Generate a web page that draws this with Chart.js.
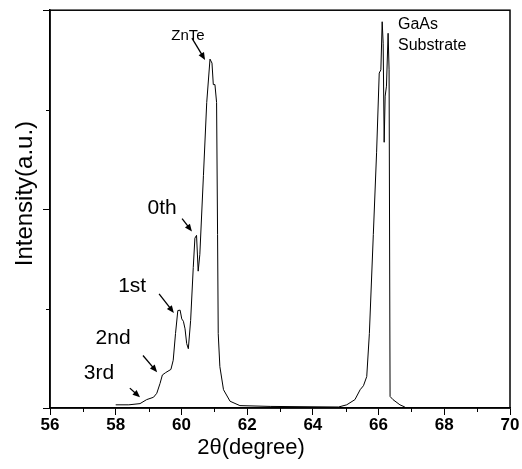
<!DOCTYPE html>
<html>
<head>
<meta charset="utf-8">
<script src="https://cdn.jsdelivr.net/npm/chart.js@4.4.1/dist/chart.umd.min.js"></script>
<style>
    html, body { margin: 0; padding: 0; background: #fff; }
    #wrap { width: 522px; height: 469px; }
</style>
</head>
<body>
<div id="wrap"><canvas id="c"></canvas></div>
<script>
// 2theta scan
const twoTheta = [
    58.0, 58.4, 58.74, 58.94, 59.15, 59.25, 59.35, 59.42, 59.52, 59.68, 59.75, 59.82, 59.89, 59.96,
    60.01, 60.06, 60.11, 60.16, 60.21, 60.28, 60.36, 60.41, 60.46, 60.51, 60.56, 60.67, 60.77,
    60.87, 60.93, 60.97, 61.02, 61.07, 61.10, 61.12, 61.17, 61.28, 61.48, 61.78, 62.7, 64.78,
    65.03, 65.28, 65.44, 65.54, 65.64, 65.72, 65.84, 65.94, 66.02, 66.07, 66.11, 66.14, 66.17,
    66.20, 66.24, 66.29, 66.32, 66.35, 66.44, 66.65, 66.80,
]
const intensity = [
    0.8, 0.8, 1.1, 2.1, 2.7, 3.7, 6.2, 8.3, 8.9, 9.7, 12, 18.7, 24.5, 24.6,
    22.4, 21.8, 19.9, 16.2, 14.9, 22, 35.3, 42.7, 43.4, 34.4, 38.6, 58.5, 76.8,
    87.7, 86.7, 81.3, 81.3, 76.8, 43.6, 18.7, 10.4, 4.6, 1.7, 0.6, 0.4, 0.25,
    0.8, 2.1, 4.6, 5.6, 7.9, 18.7, 43.6, 64.3, 84.2, 85, 97.1, 91.7, 66.8,
    78.4, 80.9, 94.2, 85, 2.9, 2.1, 0.8, 0.25,
]

const xTitle = '2θ(degree)'
const yTitle = 'Intensity(a.u.)'

// annotations: text position and arrow [from, to] in data units
const labels = [
    { text: 'ZnTe', x: 60.2, y: 93.5, size: 15, align: 'center', arrow: [[60.32, 93.0], [60.72, 87.5]] },
    { text: 'GaAs', x: 66.59, y: 96.3, size: 16, align: 'left', arrow: null },
    { text: 'Substrate', x: 66.59, y: 91.0, size: 16, align: 'left', arrow: null },
    { text: '0th', x: 59.41, y: 50.1, size: 21, align: 'center', arrow: [[60.02, 47.6], [60.32, 44.4]] },
    { text: '1st', x: 58.5, y: 30.7, size: 21, align: 'center', arrow: [[59.32, 28.7], [59.77, 23.9]] },
    { text: '2nd', x: 57.92, y: 17.5, size: 21, align: 'center', arrow: [[58.83, 13.2], [59.26, 9.0]] },
    { text: '3rd', x: 57.49, y: 8.7, size: 21, align: 'center', arrow: [[58.43, 5.0], [58.74, 2.7]] },
]

const points = twoTheta.map((x, i) => ({ x, y: intensity[i] }))
const FONT = '"Liberation Sans", Arial, sans-serif'

const decorations = {
    id: 'decorations',
    afterDraw(chart) {
        const { ctx, chartArea: a, scales: { x, y } } = chart
        ctx.save()
        ctx.strokeStyle = '#000'
        ctx.lineWidth = 1.5
        ctx.strokeRect(a.left, a.top, a.right - a.left, a.bottom - a.top)

        // minor ticks
        ctx.lineWidth = 1
        ctx.beginPath()
        for (let v = 57; v < 70; v += 2) {
            const px = Math.round(x.getPixelForValue(v)) + 0.5
            ctx.moveTo(px, a.bottom); ctx.lineTo(px, a.bottom + 4)
        }
        for (const v of [25, 75]) {
            const py = Math.round(y.getPixelForValue(v)) + 0.5
            ctx.moveTo(a.left, py); ctx.lineTo(a.left - 4, py)
        }
        ctx.stroke()

        ctx.fillStyle = '#000'
        ctx.textBaseline = 'middle'

        // axis titles, placed slightly off-centre like the original
        ctx.textAlign = 'center'
        ctx.font = `22px ${FONT}`
        ctx.fillText(xTitle, x.getPixelForValue(62.12), a.bottom + 40)
        ctx.save()
        ctx.translate(a.left - 25, y.getPixelForValue(53.9))
        ctx.rotate(-Math.PI / 2)
        ctx.font = `24px ${FONT}`
        ctx.fillText(yTitle, 0, 0)
        ctx.restore()

        labels.forEach(l => {
            ctx.textAlign = l.align
            ctx.font = `${l.size}px ${FONT}`
            ctx.fillText(l.text, x.getPixelForValue(l.x), y.getPixelForValue(l.y))
            if (!l.arrow) return
            const [x0, y0] = [x.getPixelForValue(l.arrow[0][0]), y.getPixelForValue(l.arrow[0][1])]
            const [x1, y1] = [x.getPixelForValue(l.arrow[1][0]), y.getPixelForValue(l.arrow[1][1])]
            const ang = Math.atan2(y1 - y0, x1 - x0)
            ctx.lineWidth = 1.3
            ctx.beginPath()
            ctx.moveTo(x0, y0)
            ctx.lineTo(x1 - 5 * Math.cos(ang), y1 - 5 * Math.sin(ang))
            ctx.stroke()
            ctx.beginPath()
            ctx.moveTo(x1, y1)
            ctx.lineTo(x1 - 8 * Math.cos(ang - 0.4), y1 - 8 * Math.sin(ang - 0.4))
            ctx.lineTo(x1 - 8 * Math.cos(ang + 0.4), y1 - 8 * Math.sin(ang + 0.4))
            ctx.closePath()
            ctx.fill()
        })
        ctx.restore()
    }
}

new Chart(document.getElementById('c'), {
    type: 'line',
    data: {
        datasets: [{
            data: points,
            borderColor: '#000',
            borderWidth: 1,
            pointRadius: 0,
            tension: 0,
            fill: false,
        }]
    },
    options: {
        responsive: true,
        maintainAspectRatio: false,
        animation: false,
        layout: { padding: { top: 7, right: 12, left: 0, bottom: 0 } },
        plugins: { legend: { display: false }, tooltip: { enabled: false } },
        scales: {
            x: {
                type: 'linear',
                min: 56,
                max: 70,
                afterFit: s => { s.height = 61 },
                border: { color: '#000', width: 1.5 },
                grid: { drawOnChartArea: false, tickLength: 7, tickColor: '#000' },
                ticks: {
                    stepSize: 2,
                    padding: 0,
                    color: '#000',
                    font: { family: FONT, size: 17, weight: 'bold' },
                    maxRotation: 0,
                },
            },
            y: {
                min: 0,
                max: 100,
                afterFit: s => { s.width = 50 },
                border: { color: '#000', width: 1.5 },
                grid: { drawOnChartArea: false, tickLength: 7, tickColor: '#000' },
                ticks: { stepSize: 50, callback: () => '' },
            },
        },
    },
    plugins: [decorations],
})
</script>
</body>
</html>
